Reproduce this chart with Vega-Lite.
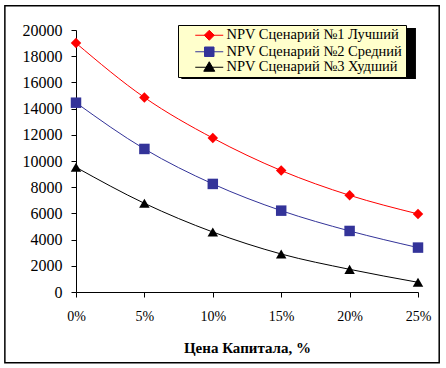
{
  "$schema": "https://vega.github.io/schema/vega-lite/v6.json",
  "width": 342,
  "height": 262,
  "autosize": {"type": "none"},
  "padding": {"left": 76, "top": 30, "right": 28, "bottom": 76},
  "background": "white",
  "config": {"view": {"stroke": null}, "font": "Liberation Serif", "axis": {"labelOverlap": false}, "axisY": {"labelOverlap": false}},
  "data": {"values": [
    {"series": "NPV Сценарий №1 Лучший", "rate": 0, "npv": 19000},
    {"series": "NPV Сценарий №1 Лучший", "rate": 5, "npv": 14850},
    {"series": "NPV Сценарий №1 Лучший", "rate": 10, "npv": 11750},
    {"series": "NPV Сценарий №1 Лучший", "rate": 15, "npv": 9270},
    {"series": "NPV Сценарий №1 Лучший", "rate": 20, "npv": 7380},
    {"series": "NPV Сценарий №1 Лучший", "rate": 25, "npv": 5960},
    {"series": "NPV Сценарий №2 Средний", "rate": 0, "npv": 14450},
    {"series": "NPV Сценарий №2 Средний", "rate": 5, "npv": 10920},
    {"series": "NPV Сценарий №2 Средний", "rate": 10, "npv": 8250},
    {"series": "NPV Сценарий №2 Средний", "rate": 15, "npv": 6210},
    {"series": "NPV Сценарий №2 Средний", "rate": 20, "npv": 4660},
    {"series": "NPV Сценарий №2 Средний", "rate": 25, "npv": 3390},
    {"series": "NPV Сценарий №3 Худший", "rate": 0, "npv": 9520},
    {"series": "NPV Сценарий №3 Худший", "rate": 5, "npv": 6770},
    {"series": "NPV Сценарий №3 Худший", "rate": 10, "npv": 4580},
    {"series": "NPV Сценарий №3 Худший", "rate": 15, "npv": 2900},
    {"series": "NPV Сценарий №3 Худший", "rate": 20, "npv": 1730},
    {"series": "NPV Сценарий №3 Худший", "rate": 25, "npv": 740}
  ]},
  "layer": [
    {
      "mark": {"type": "line", "interpolate": "monotone", "strokeWidth": 1},
      "encoding": {
        "x": {
          "field": "rate", "type": "quantitative",
          "scale": {"domain": [0, 25], "nice": false, "zero": false},
          "axis": {
            "values": [0, 5, 10, 15, 20, 25],
            "labelExpr": "datum.value + '%'",
            "labelFont": "Liberation Serif", "labelFontSize": 14, "labelColor": "black",
            "labelFlush": false, "labelPadding": 12, "labelOverlap": false,
            "tickSize": 5, "tickColor": "black", "domainColor": "black", "grid": false,
            "title": "Цена Капитала, %", "titleFont": "Liberation Serif", "titleFontSize": 15,
            "titleFontWeight": "bold", "titleColor": "black", "titlePadding": 17
          }
        },
        "y": {
          "field": "npv", "type": "quantitative",
          "scale": {"domain": [0, 20000], "nice": false},
          "axis": {
            "values": [0, 2000, 4000, 6000, 8000, 10000, 12000, 14000, 16000, 18000, 20000],
            "tickCount": 11,
            "format": "d", "labelOverlap": false,
            "labelFont": "Liberation Serif", "labelFontSize": 16, "labelColor": "black",
            "labelFlush": false, "labelPadding": 9,
            "tickSize": 5, "tickColor": "black", "domainColor": "black", "grid": false,
            "title": null
          }
        },
        "color": {
          "field": "series", "type": "nominal",
          "scale": {"range": ["#FF0000", "#333399", "#000000"]},
          "legend": {
            "title": null, "orient": "none", "legendX": 102, "legendY": -5,
            "fillColor": "#FFFFCC", "strokeColor": "black", "padding": 3,
            "labelFont": "Liberation Serif", "labelFontSize": 14.5, "labelColor": "black",
            "labelLimit": 400,
            "rowPadding": 0.5, "symbolOffset": 21, "labelOffset": 10, "symbolSize": 100,
            "labelExpr": "datum.label + '    '",
            "encode": {
              "symbols": {
                "update": {
                  "shape": {"signal": "datum.value === 'NPV Сценарий №1 Лучший' ? 'M-2.8,0L2.8,0M-1,0L0,-1L1,0L0,1Z' : datum.value === 'NPV Сценарий №2 Средний' ? 'M-2.8,0L2.8,0M-0.95,-0.95L0.95,-0.95L0.95,0.95L-0.95,0.95Z' : 'M-2.8,0L2.8,0M0,-1.1L1.1,0.8L-1.1,0.8Z'"},
                  "size": {"value": 100},
                  "strokeWidth": {"value": 1},
                  "stroke": {"signal": "scale('color', datum.value)"},
                  "fill": {"signal": "scale('color', datum.value)"},
                  "opacity": {"value": 1}
                }
              }
            }
          }
        }
      }
    },
    {
      "mark": {"type": "point", "filled": true, "opacity": 1, "size": 110},
      "encoding": {
        "x": {"field": "rate", "type": "quantitative"},
        "y": {"field": "npv", "type": "quantitative"},
        "color": {"field": "series", "type": "nominal"},
        "shape": {
          "field": "series", "type": "nominal",
          "scale": {"range": ["diamond", "square", "triangle-up"]},
          "legend": null
        }
      }
    },
    {
      "data": {"values": [{}]},
      "mark": {"type": "rect", "fill": null, "stroke": "black", "strokeWidth": 1.5},
      "encoding": {
        "x": {"datum": -5.2, "type": "quantitative"},
        "x2": {"datum": 26.55},
        "y": {"datum": 21860, "type": "quantitative"},
        "y2": {"datum": -5400}
      }
    },
    {
      "data": {"values": [{}]},
      "mark": {"type": "rect", "fill": "black", "stroke": null},
      "encoding": {
        "x": {"datum": 7.7, "type": "quantitative"},
        "x2": {"datum": 24.85},
        "y": {"datum": 20150, "type": "quantitative"},
        "y2": {"datum": 16260}
      }
    }
  ]
}
